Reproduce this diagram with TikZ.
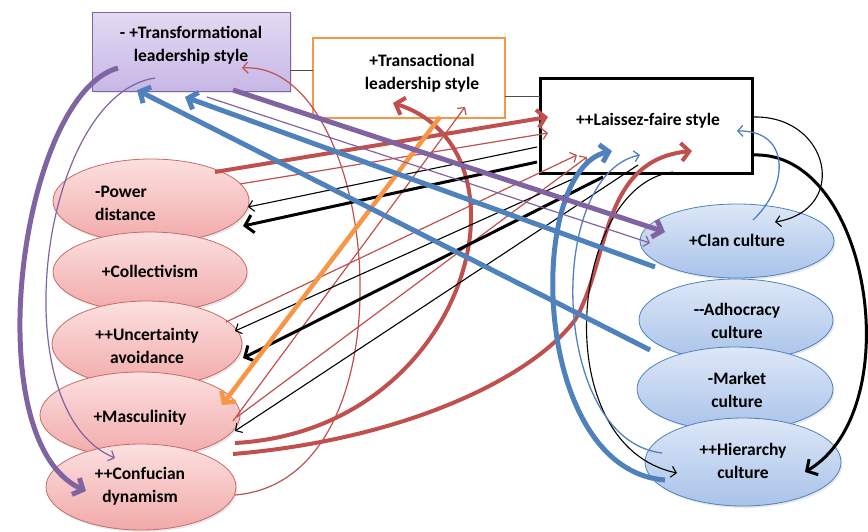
\documentclass[tikz,border=0pt]{standalone}
\usepackage{fontspec}
\setmainfont{Carlito}
\usetikzlibrary{arrows.meta,shapes.geometric,shadows}
\definecolor{cpurple}{HTML}{8064A2}
\definecolor{cred}{HTML}{C0504D}
\definecolor{cblue}{HTML}{4F81BD}
\definecolor{corange}{HTML}{F79646}
\definecolor{pinktop}{HTML}{FCE0E0}
\definecolor{pinkbot}{HTML}{F2A9A9}
\definecolor{bluetop}{HTML}{DDE7F7}
\definecolor{bluebot}{HTML}{A9C3EA}
\definecolor{lavtop}{HTML}{E3DAF3}
\definecolor{lavbot}{HTML}{C7B7E6}
\begin{document}
\begin{tikzpicture}[x=1pt,y=-1pt,
  font=\bfseries\fontsize{17.5}{23}\selectfont,
  lbl/.style={align=center,inner sep=0pt,text=black},
  shad/.style={drop shadow={opacity=0.18,shadow xshift=1.5pt,shadow yshift=-2pt}},
  pinkell/.style={ellipse,draw=cred!85,line width=0.8pt,top color=pinktop,bottom color=pinkbot,inner sep=0pt,shad},
  blueell/.style={ellipse,draw=cblue,line width=0.8pt,top color=bluetop,bottom color=bluebot,inner sep=0pt,shad},
  tipthick/.style={-{Straight Barb[length=8pt,width=18pt]}},
  tipthin/.style={-{Straight Barb[length=5pt,width=11pt]}},
  pthick/.style={cpurple,line width=5pt,tipthick},
  pthin/.style={cpurple,line width=1.2pt,tipthin},
  bthick/.style={cblue,line width=5pt,tipthick},
  bthin/.style={cblue,line width=1.3pt,tipthin},
  rthick/.style={cred,line width=4pt,tipthick},
  rthin/.style={cred,line width=1.2pt,tipthin},
  kthick/.style={black,line width=3pt,tipthick},
  kthin/.style={black,line width=1.1pt,tipthin},
  othick/.style={corange,line width=4.5pt,tipthick},
  link/.style={gray!60!black,line width=1pt}
]
\useasboundingbox (0,0) rectangle (868,531);

% ---------- left ellipses (national culture) ----------
\node[pinkell,minimum width=196pt,minimum height=84pt] (pd) at (151,201) {};
\node[pinkell,minimum width=194pt,minimum height=80pt] (co) at (150,272) {};
\node[pinkell,minimum width=190pt,minimum height=86pt] (ua) at (147,344) {};
\node[pinkell,minimum width=200pt,minimum height=86pt] (ma) at (140,415) {};
\node[pinkell,minimum width=190pt,minimum height=86pt] (cd) at (141,487) {};
\node[lbl,align=left,anchor=west] (pdt) at (95,203) {-Power\\distance};
\node[lbl] (cot) at (150,271) {+Collectivism};
\node[lbl] (uat) at (147,346) {++Uncertainty\\avoidance};
\node[lbl] (mat) at (140,418) {+Masculinity};
\node[lbl] (cdt) at (140,486) {++Confucian\\dynamism};

% ---------- right ellipses (organizational culture) ----------
\node[blueell,minimum width=194pt,minimum height=74pt] (cl) at (737,241) {};
\node[blueell,minimum width=194pt,minimum height=82pt] (ad) at (736,320) {};
\node[blueell,minimum width=196pt,minimum height=84pt] (mk) at (735,389) {};
\node[blueell,minimum width=196pt,minimum height=88pt] (hi) at (743,462) {};
\node[lbl] (clt) at (737,240) {+Clan culture};
\node[lbl] (adt) at (737,321) {-{}-Adhocracy\\culture};
\node[lbl] (mkt) at (737,390) {-Market\\culture};
\node[lbl] (hit) at (743,461) {++Hierarchy\\culture};

% ---------- leadership boxes ----------
\node[draw=cpurple,line width=1pt,top color=lavtop,bottom color=lavbot,minimum width=198pt,minimum height=79pt,shad] (tf) at (191,51.5) {};
\node[draw=corange,line width=2.5pt,fill=white,minimum width=192pt,minimum height=80pt] (ts) at (409,78) {};
\node[draw=black,line width=3pt,fill=white,minimum width=212pt,minimum height=95pt] (lf) at (646,125.5) {};
\node[lbl] (tft) at (191,45) {- +Transformational\\leadership style};
\node[lbl] (tst) at (422,73) {+Transactional\\leadership style};
\node[lbl] (lft) at (648,121) {++Laissez-faire style};

% box links
\coordinate (g1) at (290,70); \coordinate (g2) at (313,70);
\coordinate (g3) at (505,96); \coordinate (g4) at (540,96);
\draw[link] (g1) -- (g2);
\draw[link] (g3) -- (g4);

% ---------- end points ----------
\coordinate (p1s) at (118,68);  \coordinate (p1e) at (86,491);
\coordinate (p2s) at (155,78);  \coordinate (p2e) at (115,458);
\coordinate (p3s) at (233,90);  \coordinate (p3e) at (665,232);
\coordinate (p4s) at (207,97);  \coordinate (p4e) at (650,243);
\coordinate (b1s) at (650,350); \coordinate (b1e) at (137,90);
\coordinate (b2s) at (655,267); \coordinate (b2e) at (185,97);
\coordinate (b3s) at (665,480); \coordinate (b3e) at (612,151);
\coordinate (b4s) at (662,453); \coordinate (b4e) at (640,155);
\coordinate (b5s) at (753,220); \coordinate (b5e) at (737,131);
\coordinate (k1s) at (537,147); \coordinate (k1e) at (248,207);
\coordinate (k2s) at (537,162); \coordinate (k2e) at (243,226);
\coordinate (k3s) at (575,178); \coordinate (k3e) at (235,331);
\coordinate (k4s) at (603,177); \coordinate (k4e) at (243,358);
\coordinate (k5s) at (638,165); \coordinate (k5e) at (235,431);
\coordinate (k6s) at (753,117); \coordinate (k6e) at (775,222);
\coordinate (k7s) at (753,155); \coordinate (k7e) at (805,472);
\coordinate (k8s) at (673,172); \coordinate (k8e) at (677,473);
\coordinate (r1s) at (240,184); \coordinate (r1e) at (548,133);
\coordinate (r2s) at (226,322); \coordinate (r2e) at (577,155);
\coordinate (r3s) at (237,417); \coordinate (r3e) at (587,157);
\coordinate (r4s) at (233,421); \coordinate (r4e) at (465,107);
\coordinate (r5s) at (235,495); \coordinate (r5e) at (242,68);
\coordinate (r6s) at (215,172); \coordinate (r6e) at (548,117);
\coordinate (r7s) at (235,443); \coordinate (r7e) at (393,103);
\coordinate (r8s) at (233,454); \coordinate (r8m) at (575,320); \coordinate (r8e) at (692,151);
\coordinate (o1s) at (440,117); \coordinate (o1e) at (222,405);

% ---------- connectors ----------
% red
\draw[rthin] (r5s) .. controls (420,480) and (380,60) .. (r5e);
\draw[rthick] (r7s) .. controls (470,430) and (540,150) .. (r7e);
\draw[rthick] (r8s) .. controls (400,440) and (530,380) .. (r8m) .. controls (610,260) and (600,160) .. (r8e);
\draw[rthick] (r6s) -- (r6e);
\draw[rthin] (r1s) -- (r1e);
\draw[rthin] (r2s) -- (r2e);
\draw[rthin] (r3s) -- (r3e);
\draw[rthin] (r4s) -- (r4e);
% black
\draw[kthin] (k1s) -- (k1e);
\draw[kthick] (k2s) -- (k2e);
\draw[kthin] (k3s) -- (k3e);
\draw[kthick] (k4s) -- (k4e);
\draw[kthin] (k5s) -- (k5e);
\draw[kthin] (k6s) .. controls (830,115) and (850,210) .. (k6e);
\draw[kthick] (k7s) .. controls (870,150) and (910,410) .. (k7e);
\draw[kthin] (k8s) .. controls (570,185) and (545,445) .. (k8e);
% orange
\draw[othick] (o1s) -- (o1e);
% blue
\draw[bthick] (b3s) .. controls (530,470) and (525,170) .. (b3e);
\draw[bthin] (b4s) .. controls (550,440) and (545,175) .. (b4e);
\draw[bthin] (b5s) .. controls (790,185) and (790,130) .. (b5e);
\draw[bthick] (b1s) -- (b1e);
\draw[bthick] (b2s) -- (b2e);
% purple
\draw[pthick] (p1s) .. controls (20,95) and (-25,440) .. (p1e);
\draw[pthin] (p2s) .. controls (40,95) and (0,410) .. (p2e);
\draw[pthick] (p3s) -- (p3e);
\draw[pthin] (p4s) -- (p4e);
\end{tikzpicture}
\end{document}
